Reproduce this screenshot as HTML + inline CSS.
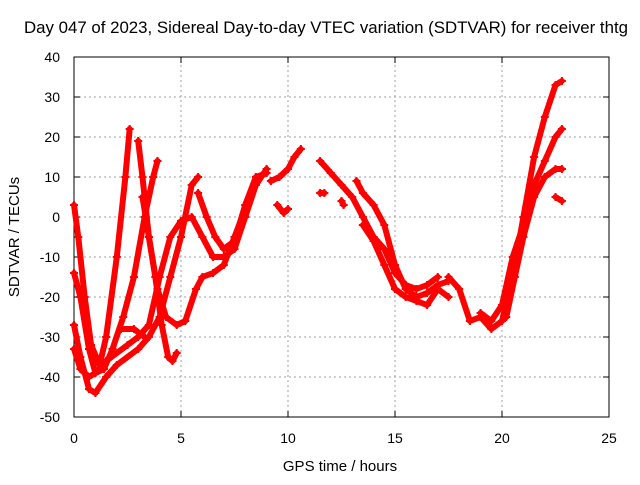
<!DOCTYPE html>
<html><head><meta charset="utf-8"><style>
body{margin:0;background:#fff;}
svg text{font-family:"Liberation Sans",sans-serif;font-size:14px;fill:#000;}
</style></head><body>
<svg id="chart" width="640" height="480" xmlns="http://www.w3.org/2000/svg">
<rect width="640" height="480" fill="#fff"/>
<text x="326" y="33" text-anchor="middle" style="font-size:16.8px" textLength="604" lengthAdjust="spacingAndGlyphs">Day 047 of 2023, Sidereal Day-to-day VTEC variation (SDTVAR) for receiver thtg</text>
<g id="grid"></g>
<g id="axes"></g>
<g id="series"></g>
<text x="340" y="471" text-anchor="middle" style="font-size:15px">GPS time / hours</text>
<text transform="translate(19,237) rotate(-90)" text-anchor="middle" style="font-size:15px">SDTVAR / TECUs</text>
</svg>
<script>
const xTicks=[0,5,10,15,20,25];
const yTicks=[-50,-40,-30,-20,-10,0,10,20,30,40];
const trackA=[[0,3],[0.2,-5],[0.5,-20],[0.8,-32],[1.2,-37],[1.5,-30],[2,-10],[2.4,10],[2.6,22]];
const trackB=[[0,-14],[0.3,-20],[0.7,-33],[1,-39],[1.4,-38],[1.8,-33],[2.3,-25],[2.8,-15],[3.3,0],[3.7,10],[3.9,14]];
const trackC=[[0,-27],[0.3,-35],[0.7,-43],[1,-44],[1.5,-40],[2,-37],[3,-33],[3.5,-30],[4,-25],[4.5,-15],[5,-5],[5.5,8],[5.8,10]];
const trackD=[[0,-33],[0.3,-38],[0.7,-40],[1,-39],[1.5,-36],[2.5,-32],[3,-30],[3.5,-27],[4,-15],[4.5,-5],[5,-1],[5.5,0],[6,-5],[6.5,-10],[7,-10],[7.5,-8],[8,0],[8.5,8],[9,12]];
const trackE=[[3,19],[3.2,10],[3.5,-5],[3.8,-15],[4.1,-27],[4.4,-35],[4.6,-36],[4.8,-34]];
const trackF=[[3.2,5],[3.5,-5],[3.9,-18],[4.3,-25],[4.8,-27],[5.2,-26],[5.7,-18],[6,-15],[6.5,-14],[7,-12],[7.5,-5],[8,2]];
const trackF2=[[2.2,-28],[2.8,-28],[3.3,-30]];
const trackG=[[5.8,6],[6.2,0],[6.6,-5],[7,-8],[7.5,-6],[8,3],[8.5,10],[9,11]];
const trackH=[[9.2,9],[9.6,10],[10,12],[10.3,15],[10.6,17]];
const trackI=[[9.5,3],[9.8,1],[10,2]];
const trackJ=[[11.5,14],[12,11],[12.5,8],[13,5],[13.5,0],[14,-5],[14.5,-8],[15,-14],[15.5,-17],[16,-18],[16.5,-17],[17,-15]];
const trackK=[[13.2,9],[13.5,6],[14,3],[14.5,-2],[15,-12],[15.5,-18],[16,-20],[16.5,-19],[17,-17],[17.5,-16]];
const trackL=[[13.5,-2],[14,-6],[14.5,-12],[15,-18],[15.5,-20],[16,-21],[16.5,-22],[17,-18],[17.5,-20]];
const trackM=[[17.5,-15],[18,-18],[18.5,-26],[19,-25],[19.5,-28],[20,-26],[20.5,-15],[21,0],[21.5,15],[22,25],[22.5,33],[22.8,34]];
const trackN=[[19,-24],[19.5,-26],[20,-22],[20.5,-10],[21,-2],[21.5,8],[22,14],[22.5,20],[22.8,22]];
const trackO=[[20.2,-25],[20.6,-15],[21,-5],[21.5,5],[22,10],[22.5,12],[22.8,12]];
const trackP=[[22.5,5],[22.8,4]];
const trackQ=[[11.5,6],[11.7,6]];
const trackR=[[12.5,4],[12.6,3]];
const tracks=[trackA,trackB,trackC,trackD,trackE,trackF,trackF2,trackG,trackH,trackI,trackJ,trackK,trackL,trackM,trackN,trackO,trackP,trackQ,trackR];
const NS="http://www.w3.org/2000/svg";
const X0=74,X1=609,Y0=417,Y1=57;
function xs(h){return X0+(h-0)/25*(X1-X0);}
function ys(v){return Y0-(v+50)/90*(Y0-Y1);}
function mk(tag,attrs,parent){const e=document.createElementNS(NS,tag);for(const k in attrs)e.setAttribute(k,attrs[k]);parent.appendChild(e);return e;}
const grid=document.getElementById('grid'),axes=document.getElementById('axes'),ser=document.getElementById('series');
xTicks.forEach(t=>{const x=xs(t);
 if(t>0&&t<25){const g=mk('line',{x1:x,x2:x,y1:Y0,y2:Y1,stroke:'#a0a0a0','stroke-dasharray':'2,3'},grid);
 
 }
 mk('line',{x1:x,x2:x,y1:Y0,y2:Y0-6,stroke:'#000'},axes);mk('line',{x1:x,x2:x,y1:Y1,y2:Y1+6,stroke:'#000'},axes);
 const tx=mk('text',{x:x,y:Y0+26,'text-anchor':'middle'},axes);tx.textContent=t;
 
 });
yTicks.forEach(t=>{const y=ys(t);
 if(t>-50&&t<40){const g=mk('line',{x1:X0,x2:X1,y1:y,y2:y,stroke:'#a0a0a0','stroke-dasharray':'2,3'},grid);
 
 }
 mk('line',{x1:X0,x2:X0+6,y1:y,y2:y,stroke:'#000'},axes);mk('line',{x1:X1,x2:X1-6,y1:y,y2:y,stroke:'#000'},axes);
 const tx=mk('text',{x:X0-14,y:y+5,'text-anchor':'end'},axes);tx.textContent=t;
 
 });
const frame=mk('rect',{x:X0,y:Y1,width:X1-X0,height:Y0-Y1,fill:'none',stroke:'#000'},axes);


tracks.forEach((tr,i)=>{
 const pl=mk('polyline',{points:tr.map(p=>xs(p[0])+','+ys(p[1])).join(' '),fill:'none',stroke:'#ff0000','stroke-width':6,'stroke-linejoin':'round','stroke-linecap':'round'},ser);
 
 
 tr.forEach(p=>{const x=xs(p[0]),y=ys(p[1]);
  const m=mk('path',{d:`M${x-4},${y}H${x+4}M${x},${y-4}V${y+4}`,stroke:'#ff0000','stroke-width':2},ser);
  
  });
});
</script>
</body></html>
